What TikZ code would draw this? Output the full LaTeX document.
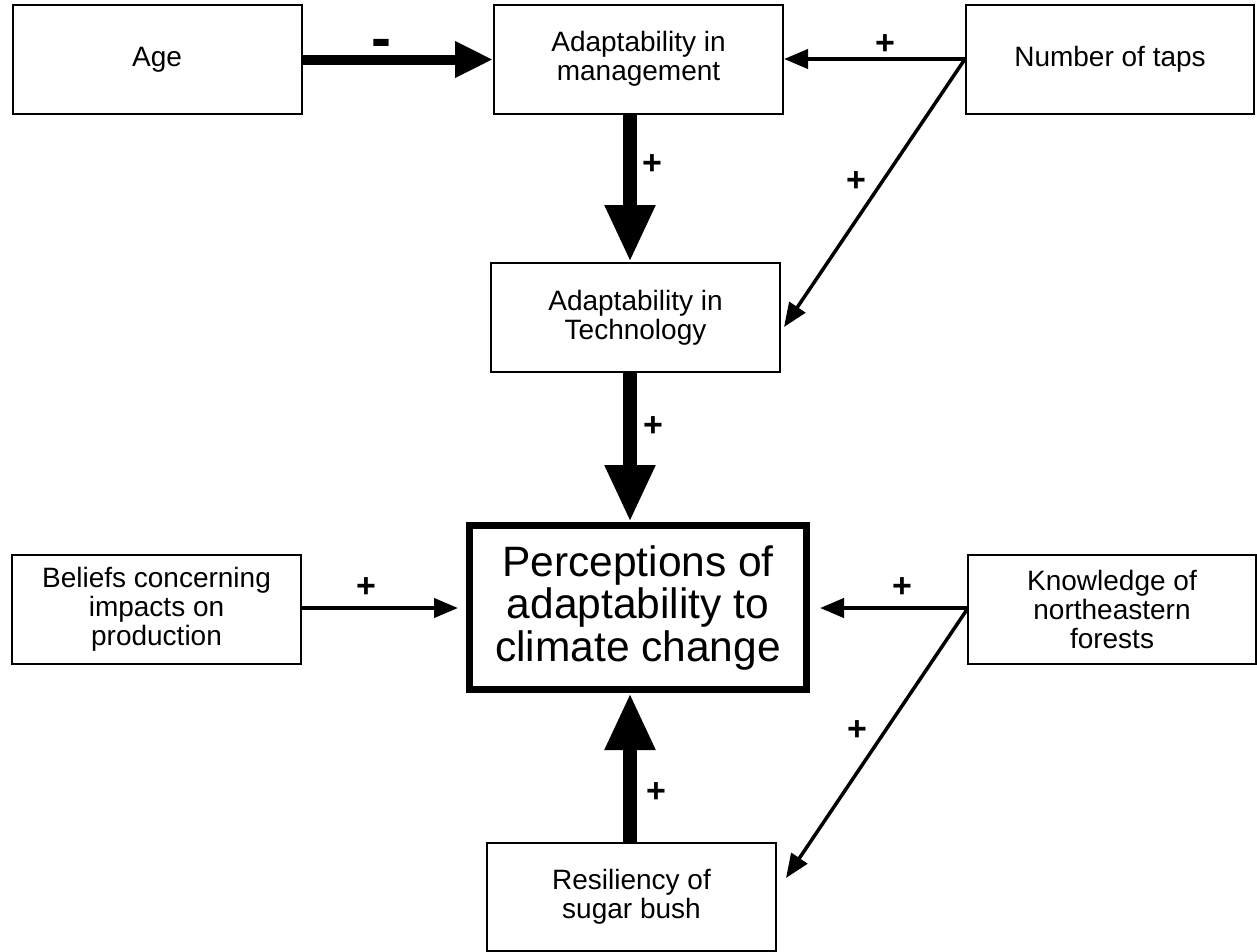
\documentclass[tikz,border=0pt]{standalone}
\usepackage{fontspec}
\setmainfont{Liberation Sans}
\usetikzlibrary{arrows.meta,calc}
\begin{document}
\begin{tikzpicture}[x=1pt,y=-1pt,
  box/.style={draw=black,line width=2pt,fill=white,inner sep=0pt,align=center,
    minimum width=289pt,minimum height=109pt,font=\fontsize{28}{29}\selectfont},
  bigbox/.style={draw=black,line width=7pt,inner sep=0pt,align=center,
    minimum width=337pt,minimum height=164pt,font=\fontsize{42.5}{42.5}\selectfont},
  thinarrow/.style={line width=4pt,-{Triangle[length=24pt,width=19pt]}},
  diagarrow/.style={line width=3.5pt,-{Triangle[length=24pt,width=19pt]}},
  medarrow/.style={line width=10pt,-{Triangle[length=38pt,width=34pt]}},
  thickarrow/.style={line width=14pt,-{Triangle[length=57pt,width=47pt]}},
  sign/.style={font=\bfseries\fontsize{34}{34}\selectfont,inner sep=0pt},
  minus/.style={font=\bfseries\fontsize{60}{60}\selectfont,inner sep=0pt}]
\clip (0,0) rectangle (1257,951);
\fill[white] (0,0) rectangle (1257,951);
\coordinate (vx) at (630,0);
\node[box] (age) at (157,59.5) {Age};
\node[box] (mgmt) at (638.5,59) {Adaptability in\\management};
\node[box,minimum width=288pt] (taps) at (1110,59) {Number of taps};
\node[box] (tech) at (635.5,317.5) {Adaptability in\\Technology};
\node[bigbox] (perc) at (638,607.5) {Perceptions of\\adaptability to\\climate change};
\node[box] (bel) at (156.5,609.5) {Beliefs concerning\\impacts on\\production};
\node[box,minimum width=288pt] (know) at (1112,609.5) {Knowledge of\\northeastern\\forests};
\node[box,minimum height=108pt] (res) at (631.5,897) {Resiliency of\\sugar bush};

\draw[medarrow] (age.east) -- (age.east -| mgmt.west);
\draw[thinarrow] (taps.west) -- (taps.west -| mgmt.east);
\draw[diagarrow] (taps.west) -- ([shift={(3,9.5)}]tech.east);
\draw[thickarrow] (mgmt.south -| vx) -- (tech.north -| vx);
\draw[thickarrow] (tech.south -| vx) -- (perc.north -| vx);
\draw[thickarrow] (res.north -| vx) -- (perc.south -| vx);
\draw[thinarrow,shorten >=8pt] ([yshift=1.5]bel.east) -- ([yshift=1.5]bel.east -| perc.west);
\draw[thinarrow,shorten >=10pt] ([yshift=1.5]know.west) -- ([yshift=1.5]know.west -| perc.east);
\draw[diagarrow] (know.west) -- ([shift={(9,-19)}]res.east);

\node[minus] (l1) at (381,49) {-};
\node[sign] (l2) at (885,45) {+};
\node[sign] (l3) at (652,165) {+};
\node[sign] (l4) at (856,182) {+};
\node[sign] (l5) at (653,427) {+};
\node[sign] (l6) at (366,588) {+};
\node[sign] (l7) at (902,588) {+};
\node[sign] (l8) at (857,731) {+};
\node[sign] (l9) at (656,793) {+};
\end{tikzpicture}
\end{document}
